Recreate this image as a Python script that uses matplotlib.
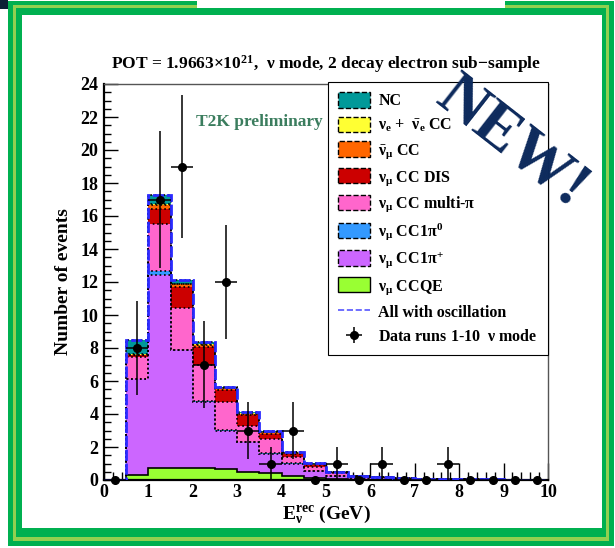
#T2K 2 decay electron sub-sample, stacked MC vs data

import numpy as np
import matplotlib
matplotlib.use('Agg')
import matplotlib.pyplot as plt
from matplotlib.patches import Rectangle, Patch
from matplotlib.lines import Line2D
from matplotlib.ticker import MultipleLocator

# bins in reconstructed energy (GeV)
edges = np.arange(0, 10.01, 0.5)
centres = edges[:-1] + 0.25

# per-bin contribution of each interaction mode (stack order, bottom first)
ccqe   = [0, 0.30, 0.70, 0.75, 0.70, 0.65, 0.50, 0.45, 0.25, 0.15, 0.06, 0.03, 0.02, 0.01, 0.01, 0.01, 0.01, 0.01, 0.01, 0.01]
cc1pip = [0, 5.80, 11.70, 7.10, 4.05, 2.35, 1.80, 1.15, 0.75, 0.40, 0.19, 0.10, 0.08, 0.05, 0.04, 0.02, 0.02, 0.01, 0.01, 0.01]
cc1pi0 = [0, 0.05, 0.25, 0.05, 0.05, 0.02, 0.02, 0.02, 0.01, 0.01, 0.01, 0.0, 0.0, 0.0, 0.0, 0.0, 0.0, 0.0, 0.0, 0.0]
ccmpi  = [0, 1.30, 2.85, 2.50, 2.20, 1.68, 0.98, 0.88, 0.39, 0.24, 0.15, 0.07, 0.05, 0.03, 0.02, 0.01, 0.01, 0.01, 0.01, 0.01]
ccdis  = [0, 0.10, 0.95, 1.30, 1.05, 0.75, 0.65, 0.30, 0.20, 0.12, 0.05, 0.03, 0.03, 0.02, 0.01, 0.01, 0.01, 0.01, 0.0, 0.0]
numub  = [0, 0.05, 0.20, 0.15, 0.15, 0.10, 0.08, 0.08, 0.05, 0.04, 0.02, 0.01, 0.01, 0.0, 0.0, 0.0, 0.0, 0.0, 0.0, 0.0]
nue    = [0, 0.05, 0.10, 0.05, 0.05, 0.02, 0.02, 0.02, 0.02, 0.01, 0.0, 0.0, 0.0, 0.0, 0.0, 0.0, 0.0, 0.0, 0.0, 0.0]
nc     = [0, 0.85, 0.55, 0.20, 0.10, 0.05, 0.05, 0.05, 0.05, 0.05, 0.03, 0.02, 0.02, 0.01, 0.01, 0.01, 0.0, 0.0, 0.0, 0.0]

data = [0, 8, 17, 19, 7, 12, 3, 1, 3, 0, 1, 0, 1, 0, 0, 1, 0, 0, 0, 0]

labels = [r'$\nu_\mu$ CCQE', r'$\nu_\mu$ CC1$\pi^{+}$', r'$\nu_\mu$ CC1$\pi^{0}$',
          r'$\nu_\mu$ CC multi-$\pi$', r'$\nu_\mu$ CC DIS', r'$\bar{\nu}_\mu$ CC',
          r'$\nu_e$ +  $\bar{\nu}_e$ CC', 'NC']
colours = ['#99ff33', '#cc66ff', '#3399ff', '#ff66cc', '#cc0000', '#ff6600', '#ffff33', '#009999']
components = [ccqe, cc1pip, cc1pi0, ccmpi, ccdis, numub, nue, nc]

plt.rcParams['font.family'] = ['Liberation Serif', 'DejaVu Serif']
plt.rcParams['font.weight'] = 'bold'
plt.rcParams['axes.titleweight'] = 'bold'
plt.rcParams['axes.labelweight'] = 'bold'
plt.rcParams['mathtext.fontset'] = 'custom'
plt.rcParams['mathtext.rm'] = 'Liberation Serif:bold'
plt.rcParams['mathtext.it'] = 'Liberation Serif:bold'
plt.rcParams['mathtext.bf'] = 'Liberation Serif:bold'

W, H = 615, 548
fig = plt.figure(figsize=(W/100, H/100), dpi=100)

def pix_rect(x0, y0, x1, y1, colour):
  # rectangle given in pixel coordinates from top left
  return Rectangle((x0/W, 1 - y1/H), (x1-x0)/W, (y1-y0)/H, transform=fig.transFigure,
                   facecolor=colour, edgecolor='none', zorder=-5)

# slide frame
fig.patches.append(pix_rect(8, 1, 614, 546, '#00b050'))
fig.patches.append(pix_rect(13, 5, 609, 541, '#92d050'))
fig.patches.append(pix_rect(16, 8, 606, 537, '#00b050'))
fig.patches.append(pix_rect(22, 15, 602, 528, 'white'))
fig.patches.append(pix_rect(197, 0, 505, 8, 'white'))
fig.patches.append(pix_rect(0, 0, 8, 9, '#0b2136'))

ax = fig.add_axes([104/W, 1 - 480/H, 444/W, 396/H])
ax.set_zorder(1)

bottom = np.zeros(len(centres))
for vals, col in zip(components, colours):
  top = bottom + np.array(vals)
  ax.stairs(top, edges, baseline=bottom, fill=True, color=col, zorder=2)
  ls = '-' if col == colours[0] else ':'
  ax.stairs(top, edges, baseline=None, color='black', ls=ls, lw=1.2, zorder=3)
  bottom = top

ax.stairs(bottom, edges, baseline=0, color='#2a2aff', ls=(0, (4, 1)), lw=2, zorder=4)

data = np.array(data)
err = np.sqrt(data)
eb = ax.errorbar(centres, data, yerr=err, xerr=0.25, fmt='o', color='black', ms=5.5,
                 lw=1.1, capsize=0, zorder=5, clip_on=False)

ax.set_xlim(0, 10)
ax.set_ylim(0, 24)
ax.xaxis.set_major_locator(MultipleLocator(1))
ax.xaxis.set_minor_locator(MultipleLocator(0.2))
ax.yaxis.set_major_locator(MultipleLocator(2))
ax.yaxis.set_minor_locator(MultipleLocator(0.5))
ax.tick_params(which='both', direction='in', top=False, right=False, labelsize=13, width=1)
ax.tick_params(axis='x', which='major', length=12, pad=3)
ax.tick_params(axis='x', which='minor', length=6)
ax.tick_params(axis='y', which='major', length=10, pad=4)
ax.tick_params(axis='y', which='minor', length=5)
for lab in ax.get_xticklabels() + ax.get_yticklabels():
  lab.set_fontweight('bold')
for s in ['left', 'bottom']:
  ax.spines[s].set_linewidth(1.6)
for s in ['top', 'right']:
  ax.spines[s].set_linewidth(1)
  ax.spines[s].set_color('#555555')

ax.set_xlabel(r'E$_{\nu}^{rec}$ (GeV)', fontsize=14, labelpad=1)
ax.set_ylabel('Number of events', fontsize=14, labelpad=6)
ax.set_title(r'POT = 1.9663$\times$10$^{21}$,  $\nu$ mode, 2 decay electron sub$-$sample',
             fontsize=12.5, pad=11)

ax.text(0.207, 0.905, 'T2K preliminary', transform=ax.transAxes, color='#3b7d5e',
        fontsize=12.5, ha='left', va='center')

handles = []
for lab, col in reversed(list(zip(labels, colours))):
  ls = '-' if lab.endswith('CCQE') else '--'
  handles.append(Patch(facecolor=col, edgecolor='black', ls=ls, lw=1, label=lab))
handles.append(Line2D([], [], color='#5555ff', ls='--', lw=1.2, label='All with oscillation'))
handles.append(eb)
leg_labels = [h.get_label() for h in handles[:-1]] + [r'Data runs 1-10  $\nu$ mode']
leg = ax.legend(handles, leg_labels, loc='upper right', bbox_to_anchor=(1.0, 1.005),
                borderaxespad=0, prop={'size': 11.5, 'weight': 'bold'}, frameon=True,
                fancybox=False, edgecolor='black', framealpha=1, handlelength=2.0,
                handleheight=1.1, handletextpad=0.5, labelspacing=0.45, borderpad=0.65)
leg.get_frame().set_linewidth(0.8)
leg.set_zorder(6)

fig.text(512/W, 1 - 143/H, 'NEW!', fontsize=46, fontweight='bold', color='#0d2a5c',
         rotation=-38, ha='center', va='center', zorder=10)

fig.savefig('out.png', dpi=100)
